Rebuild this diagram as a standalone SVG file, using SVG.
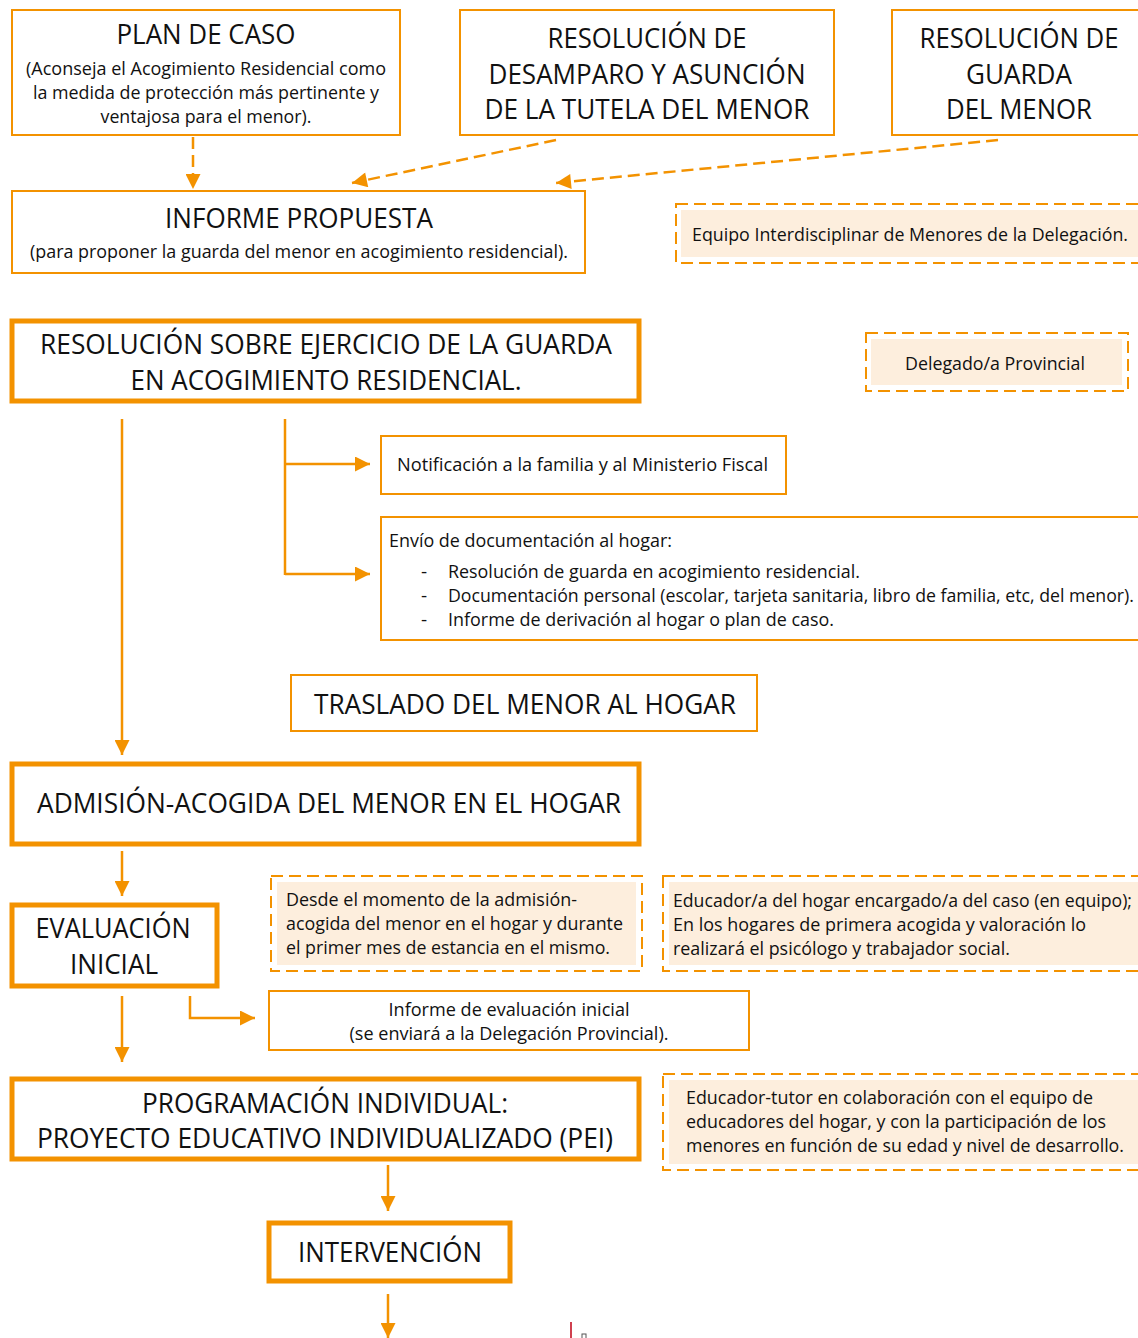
<svg xmlns="http://www.w3.org/2000/svg" width="1138" height="1338" viewBox="0 0 1138 1338">
<defs>
<style>
.b{fill:#fff;stroke:#F39200;stroke-width:2}
.bt{fill:#fff;stroke:#F39200;stroke-width:5}
.d{fill:#fff;stroke:#F39200;stroke-width:2;stroke-dasharray:12 6}
.f{fill:#FDEEDD;stroke:none}
.t{font-family:"Open Sans","Liberation Sans",sans-serif;fill:#111}
.h{font-size:28px}
.s{font-size:19px}
.c{fill:none;stroke:#F39200;stroke-width:2.5}
.cd{fill:none;stroke:#F39200;stroke-width:2.5;stroke-dasharray:12 6}
</style>
<marker id="ah" viewBox="0 0 10 10" refX="10" refY="5" markerWidth="6.5" markerHeight="6" markerUnits="strokeWidth" orient="auto">
<path d="M0,0 L10,5 L0,10 z" fill="#F39200"/>
</marker>
</defs>
<rect width="1138" height="1338" fill="#fff"/>

<g id="connectors">
<path class="cd" d="M193,137 V189" marker-end="url(#ah)"/>
<path class="cd" d="M556,140 L352,183" marker-end="url(#ah)"/>
<path class="cd" d="M998,140 L556,183" marker-end="url(#ah)"/>
<path class="c" d="M122,419 V755" marker-end="url(#ah)"/>
<path class="c" d="M285,419 V575"/>
<path class="c" d="M285,464 H370" marker-end="url(#ah)"/>
<path class="c" d="M285,574 H370" marker-end="url(#ah)"/>
<path class="c" d="M122,851 V896" marker-end="url(#ah)"/>
<path class="c" d="M122,996 V1062" marker-end="url(#ah)"/>
<path class="c" d="M190,996 V1018 H255" marker-end="url(#ah)"/>
<path class="c" d="M388,1165 V1211" marker-end="url(#ah)"/>
<path class="c" d="M388,1294 V1338" marker-end="url(#ah)"/>
</g>

<g id="plan-caso">
<rect class="b" x="12" y="10" width="388" height="125"/>
<text class="t h" x="206" y="44" text-anchor="middle" textLength="179" lengthAdjust="spacingAndGlyphs">PLAN DE CASO</text>
<text class="t s" x="206" y="75" text-anchor="middle" textLength="360" lengthAdjust="spacingAndGlyphs">(Aconseja el Acogimiento Residencial como</text>
<text class="t s" x="206" y="99" text-anchor="middle" textLength="346" lengthAdjust="spacingAndGlyphs">la medida de protección más pertinente y</text>
<text class="t s" x="206" y="123" text-anchor="middle" textLength="211" lengthAdjust="spacingAndGlyphs">ventajosa para el menor).</text>
</g>

<g id="resolucion-desamparo">
<rect class="b" x="460" y="10" width="374" height="125"/>
<text class="t h" x="647" y="48" text-anchor="middle" textLength="199" lengthAdjust="spacingAndGlyphs">RESOLUCIÓN DE</text>
<text class="t h" x="647" y="84" text-anchor="middle" textLength="317" lengthAdjust="spacingAndGlyphs">DESAMPARO Y ASUNCIÓN</text>
<text class="t h" x="647" y="119" text-anchor="middle" textLength="325" lengthAdjust="spacingAndGlyphs">DE LA TUTELA DEL MENOR</text>
</g>

<g id="resolucion-guarda">
<rect class="b" x="892" y="10" width="248" height="125"/>
<text class="t h" x="1019" y="48" text-anchor="middle" textLength="199" lengthAdjust="spacingAndGlyphs">RESOLUCIÓN DE</text>
<text class="t h" x="1019" y="84" text-anchor="middle" textLength="106" lengthAdjust="spacingAndGlyphs">GUARDA</text>
<text class="t h" x="1019" y="119" text-anchor="middle" textLength="146" lengthAdjust="spacingAndGlyphs">DEL MENOR</text>
</g>

<g id="informe-propuesta">
<rect class="b" x="12" y="191" width="573" height="82"/>
<text class="t h" x="299" y="228" text-anchor="middle" textLength="268" lengthAdjust="spacingAndGlyphs">INFORME PROPUESTA</text>
<text class="t s" x="299" y="258" text-anchor="middle" textLength="538" lengthAdjust="spacingAndGlyphs">(para proponer la guarda del menor en acogimiento residencial).</text>
</g>

<g id="equipo">
<rect class="d" x="676" y="204" width="465" height="59"/>
<rect class="f" x="681" y="210" width="460" height="47"/>
<text class="t s" x="692" y="241" textLength="436" lengthAdjust="spacingAndGlyphs">Equipo Interdisciplinar de Menores de la Delegación.</text>
</g>

<g id="resolucion-ejercicio">
<rect class="bt" x="12" y="321" width="627" height="80"/>
<text class="t h" x="326" y="354" text-anchor="middle" textLength="572" lengthAdjust="spacingAndGlyphs">RESOLUCIÓN SOBRE EJERCICIO DE LA GUARDA</text>
<text class="t h" x="326" y="390" text-anchor="middle" textLength="391" lengthAdjust="spacingAndGlyphs">EN ACOGIMIENTO RESIDENCIAL.</text>
</g>

<g id="delegado">
<rect class="d" x="866" y="333" width="262" height="58"/>
<rect class="f" x="871" y="339" width="251" height="46"/>
<text class="t s" x="995" y="370" text-anchor="middle" textLength="180" lengthAdjust="spacingAndGlyphs">Delegado/a Provincial</text>
</g>

<g id="notificacion">
<rect class="b" x="381" y="436" width="405" height="58"/>
<text class="t s" x="397" y="471" textLength="371" lengthAdjust="spacingAndGlyphs">Notificación a la familia y al Ministerio Fiscal</text>
</g>

<g id="envio">
<rect class="b" x="381" y="517" width="759" height="123"/>
<text class="t s" x="389" y="547" textLength="283" lengthAdjust="spacingAndGlyphs">Envío de documentación al hogar:</text>
<text class="t s" x="421" y="578">-</text>
<text class="t s" x="448" y="578" textLength="412" lengthAdjust="spacingAndGlyphs">Resolución de guarda en acogimiento residencial.</text>
<text class="t s" x="421" y="602">-</text>
<text class="t s" x="448" y="602" textLength="686" lengthAdjust="spacingAndGlyphs">Documentación personal (escolar, tarjeta sanitaria, libro de familia, etc, del menor).</text>
<text class="t s" x="421" y="626">-</text>
<text class="t s" x="448" y="626" textLength="386" lengthAdjust="spacingAndGlyphs">Informe de derivación al hogar o plan de caso.</text>
</g>

<g id="traslado">
<rect class="b" x="291" y="675" width="466" height="56"/>
<text class="t h" x="525" y="714" text-anchor="middle" textLength="422" lengthAdjust="spacingAndGlyphs">TRASLADO DEL MENOR AL HOGAR</text>
</g>

<g id="admision">
<rect class="bt" x="12" y="764" width="627" height="80"/>
<text class="t h" x="329" y="813" text-anchor="middle" textLength="584" lengthAdjust="spacingAndGlyphs">ADMISIÓN-ACOGIDA DEL MENOR EN EL HOGAR</text>
</g>

<g id="evaluacion">
<rect class="bt" x="12" y="905" width="205" height="81"/>
<text class="t h" x="113" y="938" text-anchor="middle" textLength="155" lengthAdjust="spacingAndGlyphs">EVALUACIÓN</text>
<text class="t h" x="114" y="974" text-anchor="middle" textLength="88" lengthAdjust="spacingAndGlyphs">INICIAL</text>
</g>

<g id="desde">
<rect class="d" x="271" y="876" width="371" height="95"/>
<rect class="f" x="277" y="882" width="359" height="83"/>
<text class="t s" x="286" y="906" textLength="291" lengthAdjust="spacingAndGlyphs">Desde el momento de la admisión-</text>
<text class="t s" x="286" y="930" textLength="337" lengthAdjust="spacingAndGlyphs">acogida del menor en el hogar y durante</text>
<text class="t s" x="286" y="954" textLength="324" lengthAdjust="spacingAndGlyphs">el primer mes de estancia en el mismo.</text>
</g>

<g id="educador">
<rect class="d" x="663" y="876" width="478" height="95"/>
<rect class="f" x="669" y="882" width="472" height="83"/>
<text class="t s" x="673" y="907" textLength="459" lengthAdjust="spacingAndGlyphs">Educador/a del hogar encargado/a del caso (en equipo);</text>
<text class="t s" x="673" y="931" textLength="413" lengthAdjust="spacingAndGlyphs">En los hogares de primera acogida y valoración lo</text>
<text class="t s" x="673" y="955" textLength="337" lengthAdjust="spacingAndGlyphs">realizará el psicólogo y trabajador social.</text>
</g>

<g id="informe-evaluacion">
<rect class="b" x="269" y="991" width="480" height="59"/>
<text class="t s" x="509" y="1016" text-anchor="middle" textLength="241" lengthAdjust="spacingAndGlyphs">Informe de evaluación inicial</text>
<text class="t s" x="509" y="1040" text-anchor="middle" textLength="319" lengthAdjust="spacingAndGlyphs">(se enviará a la Delegación Provincial).</text>
</g>

<g id="programacion">
<rect class="bt" x="12" y="1079" width="627" height="80"/>
<text class="t h" x="325" y="1113" text-anchor="middle" textLength="366" lengthAdjust="spacingAndGlyphs">PROGRAMACIÓN INDIVIDUAL:</text>
<text class="t h" x="325" y="1148" text-anchor="middle" textLength="576" lengthAdjust="spacingAndGlyphs">PROYECTO EDUCATIVO INDIVIDUALIZADO (PEI)</text>
</g>

<g id="educador-tutor">
<rect class="d" x="663" y="1074" width="478" height="96"/>
<rect class="f" x="669" y="1080" width="472" height="84"/>
<text class="t s" x="686" y="1104" textLength="407" lengthAdjust="spacingAndGlyphs">Educador-tutor en colaboración con el equipo de</text>
<text class="t s" x="686" y="1128" textLength="420" lengthAdjust="spacingAndGlyphs">educadores del hogar, y con la participación de los</text>
<text class="t s" x="686" y="1152" textLength="438" lengthAdjust="spacingAndGlyphs">menores en función de su edad y nivel de desarrollo.</text>
</g>

<g id="intervencion">
<rect class="bt" x="269" y="1223" width="241" height="58"/>
<text class="t h" x="390" y="1262" text-anchor="middle" textLength="184" lengthAdjust="spacingAndGlyphs">INTERVENCIÓN</text>
</g>

<line x1="571" y1="1322" x2="571" y2="1338" stroke="#D0404F" stroke-width="2"/>
<rect x="582" y="1334" width="4" height="5" fill="none" stroke="#555" stroke-width="1"/>
</svg>
